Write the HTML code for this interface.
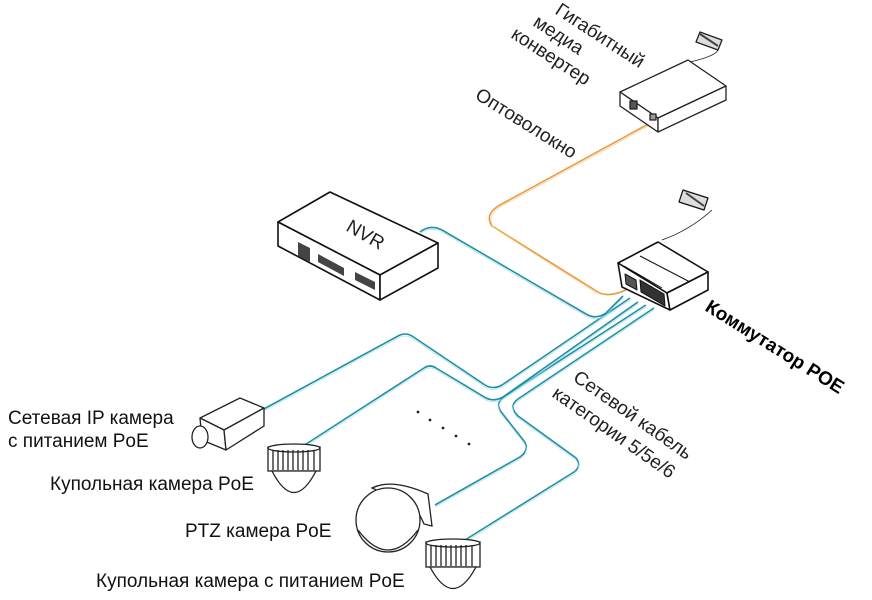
<!DOCTYPE html>
<html><head><meta charset="utf-8"><style>
html,body{margin:0;padding:0;background:#fff;}
svg{display:block;font-family:"Liberation Sans","Noto Sans CJK SC",sans-serif;}
</style></head><body>
<svg width="872" height="600" viewBox="0 0 872 600" xmlns="http://www.w3.org/2000/svg">
<rect width="872" height="600" fill="#fff"/>
<!-- cables teal -->
<g fill="none" stroke="#1f8fa6" stroke-width="1.6">
 <path d="M420,232 Q430,224 442,230 L586,314 Q596,320 606,313 L623,296"/>
 <path d="M262,410 L398,336 Q405,332 412,336 L485,385 Q493,390 502,385 L630,298"/>
 <path d="M300,448 L424,368 Q430,364 436,368 L486,398 Q494,402 503,397 L638,302"/>
 <path d="M435,505 L520,457 Q530,450 524,441 L502,413 Q494,403 505,396 L646,305"/>
 <path d="M465,540 L574,472 Q582,466 576,458 L518,416 Q508,406 518,399 L654,308"/>
</g>
<g fill="none" stroke="#9fdbe8" stroke-width="0.8" opacity="0.8">
 <path d="M420,234 Q430,226 442,232 L586,316 Q596,322 606,315 L623,298"/>
 <path d="M262,412 L398,338 Q405,334 412,338 L485,387 Q493,392 502,387 L630,300"/>
 <path d="M300,450 L424,370 Q430,366 436,370 L486,400 Q494,404 503,399 L638,304"/>
 <path d="M435,507 L520,459 Q530,452 524,443 L502,415 Q494,405 505,398 L646,307"/>
 <path d="M465,542 L574,474 Q582,468 576,460 L518,418 Q508,408 518,401 L654,310"/>
</g>
<!-- orange fiber -->
<path d="M652,122 L500,205 Q484,214 492,226 L598,292 Q608,298 626,290" fill="none" stroke="#e89a3c" stroke-width="1.6"/>
<path d="M652,124 L500,207 Q486,216 494,228 L598,294" fill="none" stroke="#f7d3a3" stroke-width="0.8"/>
<!-- converter -->
<g stroke="#222" stroke-width="1.3" fill="#fff" stroke-linejoin="round">
 <polygon points="620,92 688,60 726,86 658,118"/>
 <polygon points="620,92 658,118 658,132 620,106"/>
 <polygon points="658,118 726,86 726,100 658,132"/>
 <rect x="630" y="101" width="7" height="8" fill="#555"/>
 <rect x="650" y="114" width="6" height="6" fill="#999"/>
 <path d="M690,62 Q720,55 718,48" fill="none" stroke-width="0.8"/>
 <polygon points="700,32 722,40 718,50 696,42" fill="#ddd"/>
 <line x1="700" y1="34" x2="718" y2="46" stroke-width="2" stroke="#444"/>
</g>
<!-- switch -->
<g stroke="#111" stroke-width="1.6" fill="#fff" stroke-linejoin="round">
 <polygon points="618,263 658,242 708,272 667,293"/>
 <polygon points="618,263 667,293 670,310 622,287"/>
 <polygon points="667,293 708,272 708,290 670,310"/>
 <line x1="624" y1="266" x2="662" y2="288" stroke-width="1"/>
 <line x1="640" y1="256" x2="690" y2="282" stroke-width="1"/>
 <polygon points="640,280 664,294 665,306 641,292" fill="#333" stroke-width="1"/>
 <polygon points="625,274 636,280 637,290 626,284" fill="#555" stroke-width="1"/>
 <path d="M662,240 Q690,230 712,210" fill="none" stroke-width="0.8"/>
 <polygon points="683,190 708,198 704,210 679,202" fill="#ddd" stroke-width="1.2"/>
 <line x1="686" y1="193" x2="704" y2="206" stroke-width="2" stroke="#444"/>
</g>
<!-- NVR -->
<g stroke="#111" stroke-width="1.6" fill="#fff" stroke-linejoin="round">
 <polygon points="278,222 330,192 438,243 380,275"/>
 <polygon points="278,222 380,275 380,300 278,246"/>
 <polygon points="380,275 438,243 438,268 380,300"/>
 <text x="0" y="0" transform="translate(345,230) rotate(30)" font-size="19" fill="#222" stroke="none">NVR</text>
 <g fill="#444" stroke="none">
  <polygon points="298,242 310,248 310,262 298,256"/>
  <polygon points="318,254 344,268 344,276 318,262"/>
  <polygon points="355,272 375,282 375,290 355,280"/>
 </g>
</g>
<!-- IP camera -->
<g stroke="#222" stroke-width="1.3" fill="#fff" stroke-linejoin="round">
 <polygon points="200,418 240,398 264,408 224,430"/>
 <polygon points="200,418 224,430 226,450 202,440"/>
 <polygon points="224,430 264,408 264,426 226,450"/>
 <ellipse cx="200" cy="437" rx="8" ry="11"/>
</g>
<!-- dome cameras -->
<g stroke="#222" stroke-width="1.3" fill="#fff">
 <rect x="268" y="447" width="52" height="24"/>
 <path d="M272,471 Q294,514 316,471 Z"/>
 <ellipse cx="294" cy="448" rx="26" ry="4"/>
 <path d="M273,450 V470 M278,450 V470 M283,450 V470 M288,450 V470 M293,450 V470 M298,450 V470 M303,450 V470 M308,450 V470 M314,450 V470" stroke-width="1.3"/>
 <rect x="426" y="542" width="54" height="25"/>
 <path d="M430,567 Q453,610 476,567 Z"/>
 <ellipse cx="453" cy="543" rx="27" ry="4"/>
 <path d="M431,545 V566 M436,545 V566 M441,545 V566 M446,545 V566 M451,545 V566 M456,545 V566 M461,545 V566 M466,545 V566 M472,545 V566" stroke-width="1.3"/>
 <!-- PTZ -->
 <path d="M372,488 Q392,478 428,494 L432,526 L424,524 Q414,500 398,500 Z"/>
 <circle cx="388" cy="520" r="32"/>
 <path d="M358,530 Q388,570 418,530"/>
</g>
<!-- dots -->
<g fill="#222">
 <circle cx="418" cy="412" r="1.4"/><circle cx="430" cy="420" r="1.4"/><circle cx="443" cy="428" r="1.4"/><circle cx="456" cy="436" r="1.4"/><circle cx="469" cy="444" r="1.4"/>
</g>
<!-- labels -->
<g fill="#111" font-size="19">
 <text x="8" y="424">Сетевая IP камера</text>
 <text x="8" y="447">с питанием PoE</text>
 <text x="50" y="490">Купольная камера PoE</text>
 <text x="185" y="537">PTZ камера PoE</text>
 <text x="96" y="587">Купольная камера с питанием PoE</text>
</g>
<g fill="#222" font-size="19">
 <text transform="translate(554,13) rotate(33)">Гигабитный</text>
 <text transform="translate(532,25) rotate(33)">медиа</text>
 <text transform="translate(510,37) rotate(33)">конвертер</text>
 <text transform="translate(474,98) rotate(32)">Оптоволокно</text>
 <text transform="translate(572,380) rotate(35)">Сетевой кабель</text>
 <text transform="translate(551,396) rotate(35)">категории 5/5е/6</text>
 <text transform="translate(704,310) rotate(32)" font-weight="bold" font-size="19" fill="#000">Коммутатор POE</text>
</g>
</svg>
</body></html>
